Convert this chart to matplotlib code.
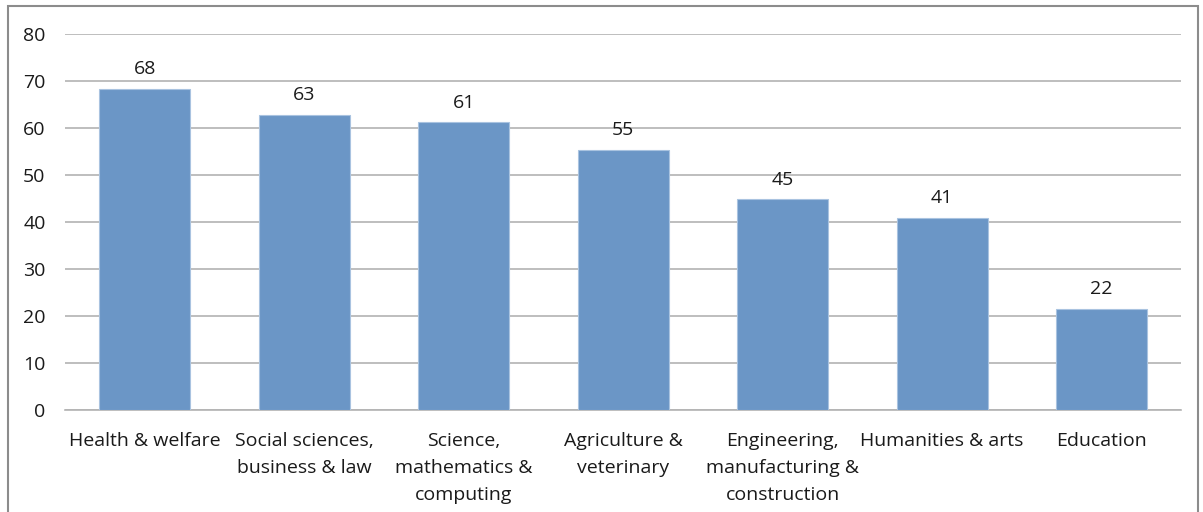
import matplotlib
matplotlib.use("Agg")
import matplotlib.pyplot as plt
from matplotlib.patches import Rectangle

categories = ["Health & welfare", "Social sciences,\nbusiness & law", "Science,\nmathematics &\ncomputing",
              "Agriculture &\nveterinary", "Engineering,\nmanufacturing &\nconstruction", "Humanities & arts", "Education"]
values = [68.3, 62.8, 61.2, 55.4, 44.8, 40.9, 21.6]
labels = ["68", "63", "61", "55", "45", "41", "22"]
yticks = [0, 10, 20, 30, 40, 50, 60, 70, 80]

plt.rcParams['font.family'] = ['Open Sans', 'DejaVu Sans']
fig = plt.figure(figsize=(12.03, 5.12), dpi=100)
ax = fig.add_axes([0.054, 0.199, 0.928, 0.735])

x = list(range(len(categories)))
bars = ax.bar(x, values, width=0.57, color="#6b96c6", edgecolor="#a9c3e0", linewidth=0.8, zorder=3)
for xi, v, lab in zip(x, values, labels):
    ax.text(xi, v + 2.2, lab, ha="center", va="bottom", fontsize=14, color="#1a1a1a")

ax.set_ylim(0, 80)
ax.set_xlim(-0.5, len(categories) - 0.5)
ax.set_yticks(yticks)
ax.set_yticklabels([str(t) for t in yticks], fontsize=14, color="#1a1a1a")
ax.set_xticks(x)
ax.set_xticklabels(categories, fontsize=14, color="#1a1a1a", linespacing=1.62, va="top")
ax.tick_params(axis="y", length=0, pad=14)
ax.tick_params(axis="x", length=0, pad=16)
ax.grid(axis="y", color="#b3b3b3", linewidth=1.2, zorder=0)
for s in ["top", "right", "left"]:
    ax.spines[s].set_visible(False)
ax.spines["bottom"].set_color("#b3b3b3")
ax.spines["bottom"].set_linewidth(1.2)

fig.patches.append(Rectangle((8 / 1203, -0.1), 1 - 13 / 1203, 1.1 - 6 / 512, transform=fig.transFigure,
                             fill=False, edgecolor="#8c8c8c", linewidth=1.5))

fig.savefig("out.png", dpi=100)
